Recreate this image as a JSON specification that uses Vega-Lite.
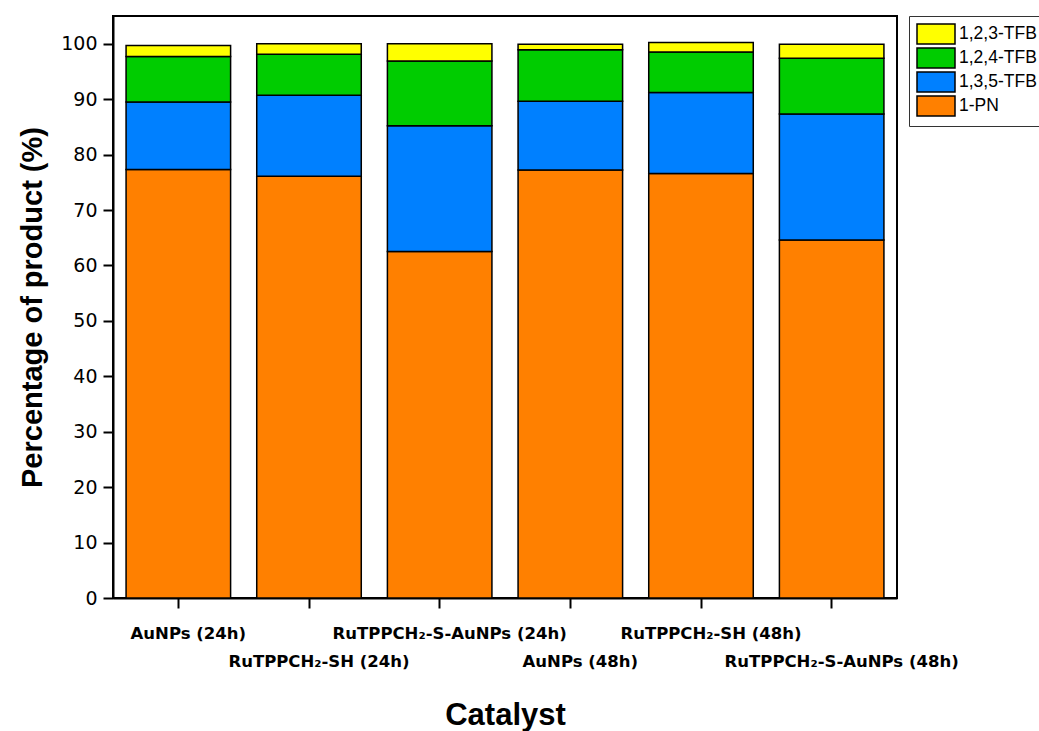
{
  "$schema": "https://vega.github.io/schema/vega-lite/v6.json",
  "width": 784,
  "height": 582,
  "autosize": {"type": "none"},
  "padding": {"left": 113, "top": 16, "right": 142, "bottom": 133},
  "background": "white",
  "config": {
    "view": {"stroke": "black", "strokeWidth": 2},
    "font": "Liberation Sans"
  },
  "data": {
    "values": [
      {"catalyst": "AuNPs (24h)", "product": "1-PN", "value": 77.3},
      {"catalyst": "AuNPs (24h)", "product": "1,3,5-TFB", "value": 12.2},
      {"catalyst": "AuNPs (24h)", "product": "1,2,4-TFB", "value": 8.2},
      {"catalyst": "AuNPs (24h)", "product": "1,2,3-TFB", "value": 2.0},
      {"catalyst": "RuTPPCH₂-SH (24h)", "product": "1-PN", "value": 76.1},
      {"catalyst": "RuTPPCH₂-SH (24h)", "product": "1,3,5-TFB", "value": 14.6},
      {"catalyst": "RuTPPCH₂-SH (24h)", "product": "1,2,4-TFB", "value": 7.4},
      {"catalyst": "RuTPPCH₂-SH (24h)", "product": "1,2,3-TFB", "value": 1.9},
      {"catalyst": "RuTPPCH₂-S-AuNPs (24h)", "product": "1-PN", "value": 62.5},
      {"catalyst": "RuTPPCH₂-S-AuNPs (24h)", "product": "1,3,5-TFB", "value": 22.7},
      {"catalyst": "RuTPPCH₂-S-AuNPs (24h)", "product": "1,2,4-TFB", "value": 11.7},
      {"catalyst": "RuTPPCH₂-S-AuNPs (24h)", "product": "1,2,3-TFB", "value": 3.1},
      {"catalyst": "AuNPs (48h)", "product": "1-PN", "value": 77.2},
      {"catalyst": "AuNPs (48h)", "product": "1,3,5-TFB", "value": 12.4},
      {"catalyst": "AuNPs (48h)", "product": "1,2,4-TFB", "value": 9.3},
      {"catalyst": "AuNPs (48h)", "product": "1,2,3-TFB", "value": 1.0},
      {"catalyst": "RuTPPCH₂-SH (48h)", "product": "1-PN", "value": 76.6},
      {"catalyst": "RuTPPCH₂-SH (48h)", "product": "1,3,5-TFB", "value": 14.6},
      {"catalyst": "RuTPPCH₂-SH (48h)", "product": "1,2,4-TFB", "value": 7.3},
      {"catalyst": "RuTPPCH₂-SH (48h)", "product": "1,2,3-TFB", "value": 1.7},
      {"catalyst": "RuTPPCH₂-S-AuNPs (48h)", "product": "1-PN", "value": 64.6},
      {"catalyst": "RuTPPCH₂-S-AuNPs (48h)", "product": "1,3,5-TFB", "value": 22.7},
      {"catalyst": "RuTPPCH₂-S-AuNPs (48h)", "product": "1,2,4-TFB", "value": 10.1},
      {"catalyst": "RuTPPCH₂-S-AuNPs (48h)", "product": "1,2,3-TFB", "value": 2.5}
    ]
  },
  "mark": {"type": "bar", "stroke": "black", "strokeWidth": 1.5},
  "encoding": {
    "x": {
      "field": "catalyst",
      "type": "nominal",
      "sort": null,
      "scale": {"paddingInner": 0.2, "paddingOuter": 0.1},
      "axis": {
        "title": "Catalyst",
        "titleFont": "Liberation Sans",
        "titleFontSize": 31,
        "titleFontWeight": "bold",
        "titleColor": "black",
        "titlePadding": 31,
        "labelAngle": 0,
        "labelFont": "DejaVu Sans",
        "labelFontSize": 16.5,
        "labelFontWeight": "bold",
        "labelColor": "black",
        "labelPadding": 17,
        "labelOffset": 10,
        "labelLineHeight": 28,
        "labelBaseline": "top",
        "labelExpr": "indexof(['RuTPPCH₂-SH (24h)','AuNPs (48h)','RuTPPCH₂-S-AuNPs (48h)'], datum.value) >= 0 ? ['', datum.value] : datum.value",
        "domainColor": "black",
        "domainWidth": 2,
        "tickColor": "black",
        "tickWidth": 2,
        "tickSize": 10,
        "labelOverlap": false,
        "labelLimit": 0
      }
    },
    "y": {
      "field": "value",
      "type": "quantitative",
      "stack": "zero",
      "scale": {"domain": [0, 105], "nice": false},
      "axis": {
        "title": "Percentage of product (%)",
        "titleFont": "Liberation Sans",
        "titleFontSize": 29,
        "titleFontWeight": "bold",
        "titleColor": "black",
        "titlePadding": 13,
        "values": [0, 10, 20, 30, 40, 50, 60, 70, 80, 90, 100],
        "labelFont": "DejaVu Sans",
        "labelFontSize": 19,
        "labelColor": "black",
        "labelPadding": 6,
        "domainColor": "black",
        "domainWidth": 2,
        "tickColor": "black",
        "tickWidth": 2,
        "tickSize": 10,
        "grid": false
      }
    },
    "color": {
      "field": "product",
      "type": "nominal",
      "scale": {
        "domain": ["1,2,3-TFB", "1,2,4-TFB", "1,3,5-TFB", "1-PN"],
        "range": ["#FFFF00", "#00CC00", "#0080FF", "#FF8000"]
      },
      "legend": {
        "title": null,
        "orient": "none",
        "legendX": 796,
        "legendY": 0,
        "strokeColor": "#333333",
        "padding": 7,
        "symbolType": "M-1.9,-1H1.9V1H-1.9Z",
        "symbolSize": 400,
        "symbolOffset": 9,
        "symbolStrokeColor": "black",
        "symbolStrokeWidth": 1.5,
        "symbolOpacity": 1,
        "labelFont": "Liberation Sans",
        "labelFontSize": 17.5,
        "labelColor": "black",
        "labelOffset": 12,
        "rowPadding": -6
      }
    },
    "order": {"field": "product", "sort": "descending"}
  }
}
